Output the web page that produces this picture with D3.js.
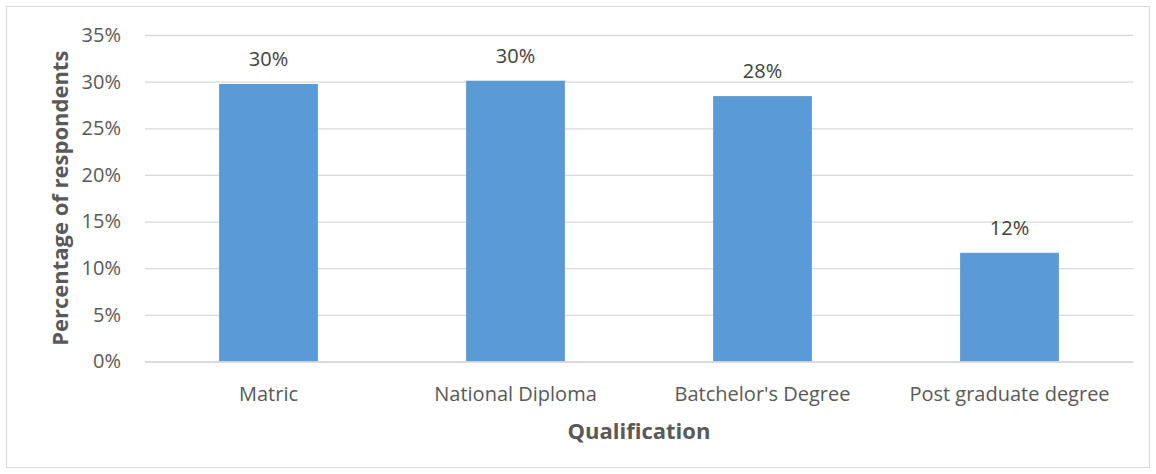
<!DOCTYPE html>
<html>
<head>
<meta charset="utf-8">
<script src="https://cdn.jsdelivr.net/npm/d3@7"></script>
<style>
  html, body { margin: 0; padding: 0; background: #fff; }
  svg { display: block; font-family: "Open Sans", "Noto Sans", sans-serif; }
</style>
</head>
<body>
<svg id="chart" width="1156" height="474"></svg>
<script>
const categories = ["Matric", "National Diploma", "Batchelor's Degree", "Post graduate degree"];
const values = [29.75, 30.1, 28.45, 11.65];
const dataLabels = ["30%", "30%", "28%", "12%"];
const yTicks = [0, 5, 10, 15, 20, 25, 30, 35];
const xTitle = "Qualification";
const yTitle = "Percentage of respondents";

const FONT = '"Open Sans", "Noto Sans", sans-serif';
const svg = d3.select("#chart");
const W = 1156, H = 474;
const plot = { left: 145, right: 1133, top: 35, bottom: 361.5 };

svg.append("rect")
  .attr("x", 6.5).attr("y", 6.5)
  .attr("width", W - 13).attr("height", H - 13)
  .attr("fill", "#fff").attr("stroke", "#d9d9d9").attr("stroke-width", 1);

const x = d3.scaleBand().domain(categories).range([plot.left, plot.right]).paddingInner(0.6).paddingOuter(0.3);
const y = d3.scaleLinear().domain([0, 35]).range([plot.bottom, plot.top]);

// gridlines
const yAxis = d3.axisLeft(y).tickValues(yTicks).tickFormat(d => d + "%")
  .tickSize(-(plot.right - plot.left)).tickPadding(24);
const gy = svg.append("g").attr("transform", `translate(${plot.left},0)`).call(yAxis)
  .attr("font-family", FONT).attr("font-size", 20);
gy.select(".domain").remove();
gy.selectAll(".tick line").attr("stroke", "#d9d9d9").attr("stroke-width", 1.3);
gy.selectAll(".tick text").attr("fill", "#595959");

// bars
svg.append("g").selectAll("rect").data(categories).join("rect")
  .attr("x", d => x(d))
  .attr("width", x.bandwidth())
  .attr("y", (d, i) => y(values[i]))
  .attr("height", (d, i) => y(0) - y(values[i]))
  .attr("fill", "#5b9bd5");

// data labels
svg.append("g").selectAll("text").data(categories).join("text")
  .attr("x", d => x(d) + x.bandwidth() / 2)
  .attr("y", (d, i) => y(values[i]) - 18)
  .attr("text-anchor", "middle")
  .attr("fill", "#404040").attr("font-size", "20px")
  .text((d, i) => dataLabels[i]);

// x axis
const xAxis = d3.axisBottom(x).tickSize(0).tickPadding(25);
const gx = svg.append("g").attr("transform", `translate(0,${plot.bottom})`).call(xAxis)
  .attr("font-family", FONT).attr("font-size", 20);
gx.select(".domain").attr("stroke", "#d9d9d9").attr("stroke-width", 1.3);
gx.selectAll(".tick text").attr("fill", "#595959");

// titles
svg.append("text")
  .attr("x", (plot.left + plot.right) / 2).attr("y", 439)
  .attr("text-anchor", "middle")
  .attr("fill", "#595959").attr("font-size", "22px").attr("font-weight", "bold")
  .text(xTitle);

svg.append("text")
  .attr("transform", `translate(68,${(plot.top + plot.bottom) / 2}) rotate(-90)`)
  .attr("text-anchor", "middle")
  .attr("fill", "#595959").attr("font-size", "22px").attr("font-weight", "bold")
  .text(yTitle);
</script>
</body>
</html>
